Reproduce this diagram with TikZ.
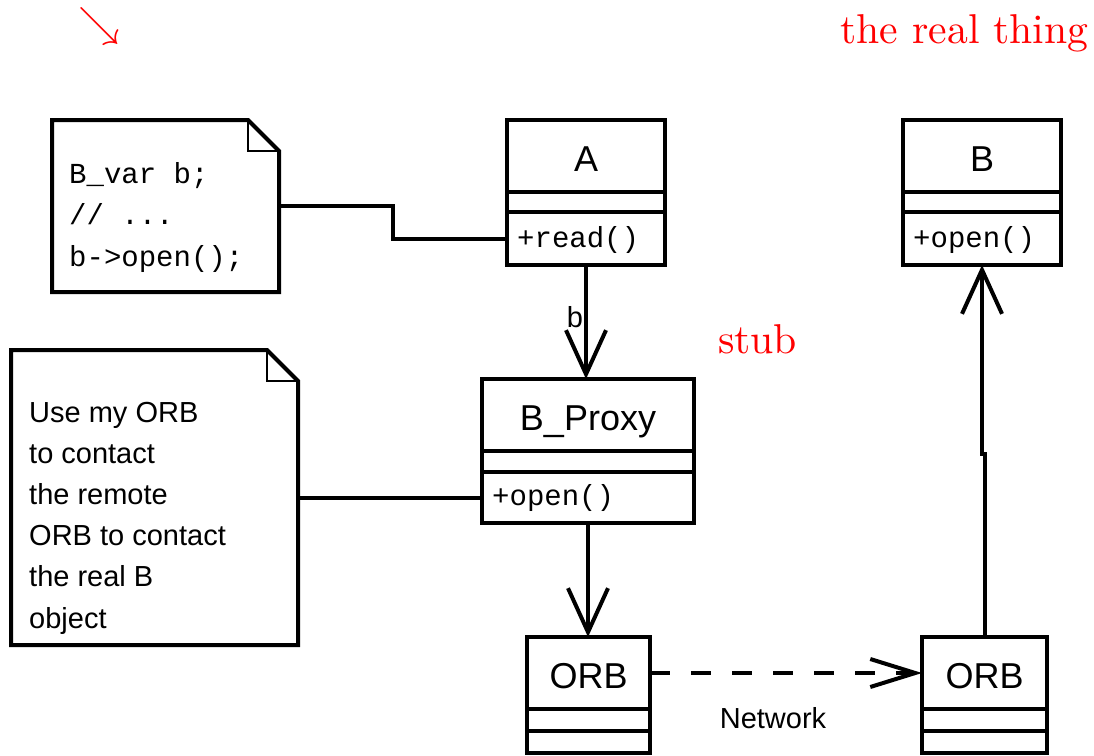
\documentclass[tikz,border=0pt]{standalone}
\usepackage{fontspec}
\setsansfont{Liberation Sans}
\setmonofont{Liberation Mono}
\usetikzlibrary{positioning,arrows.meta}

\tikzset{
  compart/.style={draw,line width=4pt,inner sep=0pt,outer sep=0pt,minimum width=#1},
  classname/.style={font=\sffamily\fontsize{36}{43}\selectfont,text height=31pt,text depth=0pt},
  optext/.style={font=\ttfamily\fontsize{29}{41.5}\selectfont,inner sep=0pt,anchor=base west},
  notebox/.style={inner sep=0pt,outer sep=0pt},
  noteline/.style={line width=4pt},
  foldline/.style={line width=2pt},
  link/.style={line width=4pt},
  assoc/.style={line width=4pt,-{Straight Barb[length=44pt,width=40pt]}},
  netlink/.style={line width=4pt,dash pattern=on 20pt off 21pt,-{Straight Barb[length=45pt,width=28pt]}},
  remark/.style={text=red,inner sep=0pt,anchor=base},
  plain/.style={font=\sffamily\fontsize{29}{41}\selectfont,inner sep=0pt},
}

\begin{document}
\begin{tikzpicture}[x=1pt,y=-1pt]
    \useasboundingbox (0,0) rectangle (1094,755);

    % Class A
    \node[compart=158pt,minimum height=72pt,classname] (Aname) at (586,156) {A};
    \node[compart=158pt,minimum height=20pt,below=0pt of Aname] (Aattr) {};
    \node[compart=158pt,minimum height=53pt,below=0pt of Aattr] (Ameth) {};
    \node[optext] (Aread) at ([xshift=10pt,yshift=-8.5pt]Ameth.west) {+read()};

    % Class B (the real thing)
    \node[compart=158pt,minimum height=72pt,classname] (Bname) at (982,156) {B};
    \node[compart=158pt,minimum height=20pt,below=0pt of Bname] (Battr) {};
    \node[compart=158pt,minimum height=53pt,below=0pt of Battr] (Bmeth) {};
    \node[optext] (Bopen) at ([xshift=10pt,yshift=-8.5pt]Bmeth.west) {+open()};

    % Proxy
    \node[compart=212pt,minimum height=72pt,classname] (Pname) at (588,415) {B\_Proxy};
    \node[compart=212pt,minimum height=21pt,below=0pt of Pname] (Pattr) {};
    \node[compart=212pt,minimum height=51pt,below=0pt of Pattr] (Pmeth) {};
    \node[optext] (Popen) at ([xshift=10pt,yshift=-8pt]Pmeth.west) {+open()};

    % ORBs
    \node[compart=123pt,minimum height=72pt,classname] (O1name) at (588.5,673) {ORB};
    \node[compart=123pt,minimum height=22pt,below=0pt of O1name] (O1attr) {};
    \node[compart=123pt,minimum height=22pt,below=0pt of O1attr] (O1meth) {};
    \node[compart=125pt,minimum height=72pt,classname] (O2name) at (984.5,673) {ORB};
    \node[compart=125pt,minimum height=22pt,below=0pt of O2name] (O2attr) {};
    \node[compart=125pt,minimum height=22pt,below=0pt of O2attr] (O2meth) {};

    % Notes
    \node[notebox,minimum width=227pt,minimum height=172pt] (code) at (165.5,206) {};
    \draw[noteline] (code.north west) -- ([xshift=-31pt]code.north east)
        -- ([yshift=-31pt]code.north east) -- (code.south east) -- (code.south west) -- cycle;
    \draw[foldline] ([xshift=-31pt]code.north east) -- ([xshift=-31pt,yshift=-31pt]code.north east)
        -- ([yshift=-31pt]code.north east);
    \node[optext,anchor=west,align=left] (codetext) at (69,217) {B\_var b;\\// ...\\b->open();};

    \node[notebox,minimum width=287pt,minimum height=295pt] (hint) at (154.5,497.5) {};
    \draw[noteline] (hint.north west) -- ([xshift=-31pt]hint.north east)
        -- ([yshift=-31pt]hint.north east) -- (hint.south east) -- (hint.south west) -- cycle;
    \draw[foldline] ([xshift=-31pt]hint.north east) -- ([xshift=-31pt,yshift=-31pt]hint.north east)
        -- ([yshift=-31pt]hint.north east);
    \node[plain,align=left,anchor=west,font=\sffamily\fontsize{29}{41.2}\selectfont] (hinttext) at (29,518)
        {Use my ORB\\to contact\\the remote\\ORB to contact\\the real B\\object};

    % Connectors
    \draw[link] (code.east) -- ++(114,0) |- (Ameth.west);
    \draw[link] (hint.east) -- (Pmeth.west);
    \draw[assoc] (Ameth.south) -- node[plain,anchor=east,pos=0.46,xshift=-1pt] (blabel) {b}
        (Ameth.south |- Pname.north);
    \draw[assoc] (Pmeth.south) -- (Pmeth.south |- O1name.north);
    \draw[netlink] (O1name.east) -- (O2name.west);
    \node[plain] (network) at (773,718) {Network};
    \draw[assoc] (O2name.north) -- ++(0,-183) -| (Bmeth.south);

    % Remarks
    \node[text=red,inner sep=0pt] (pointer) at (99,36.4) {\smash{\scalebox{4.17}{$\searrow$}}};
    \node[remark] (stub) at (757.5,353) {\scalebox{4.17}{stub}};
    \node[remark] (real) at (964.5,43) {\scalebox{4.17}{the real thing}};
\end{tikzpicture}
\end{document}
